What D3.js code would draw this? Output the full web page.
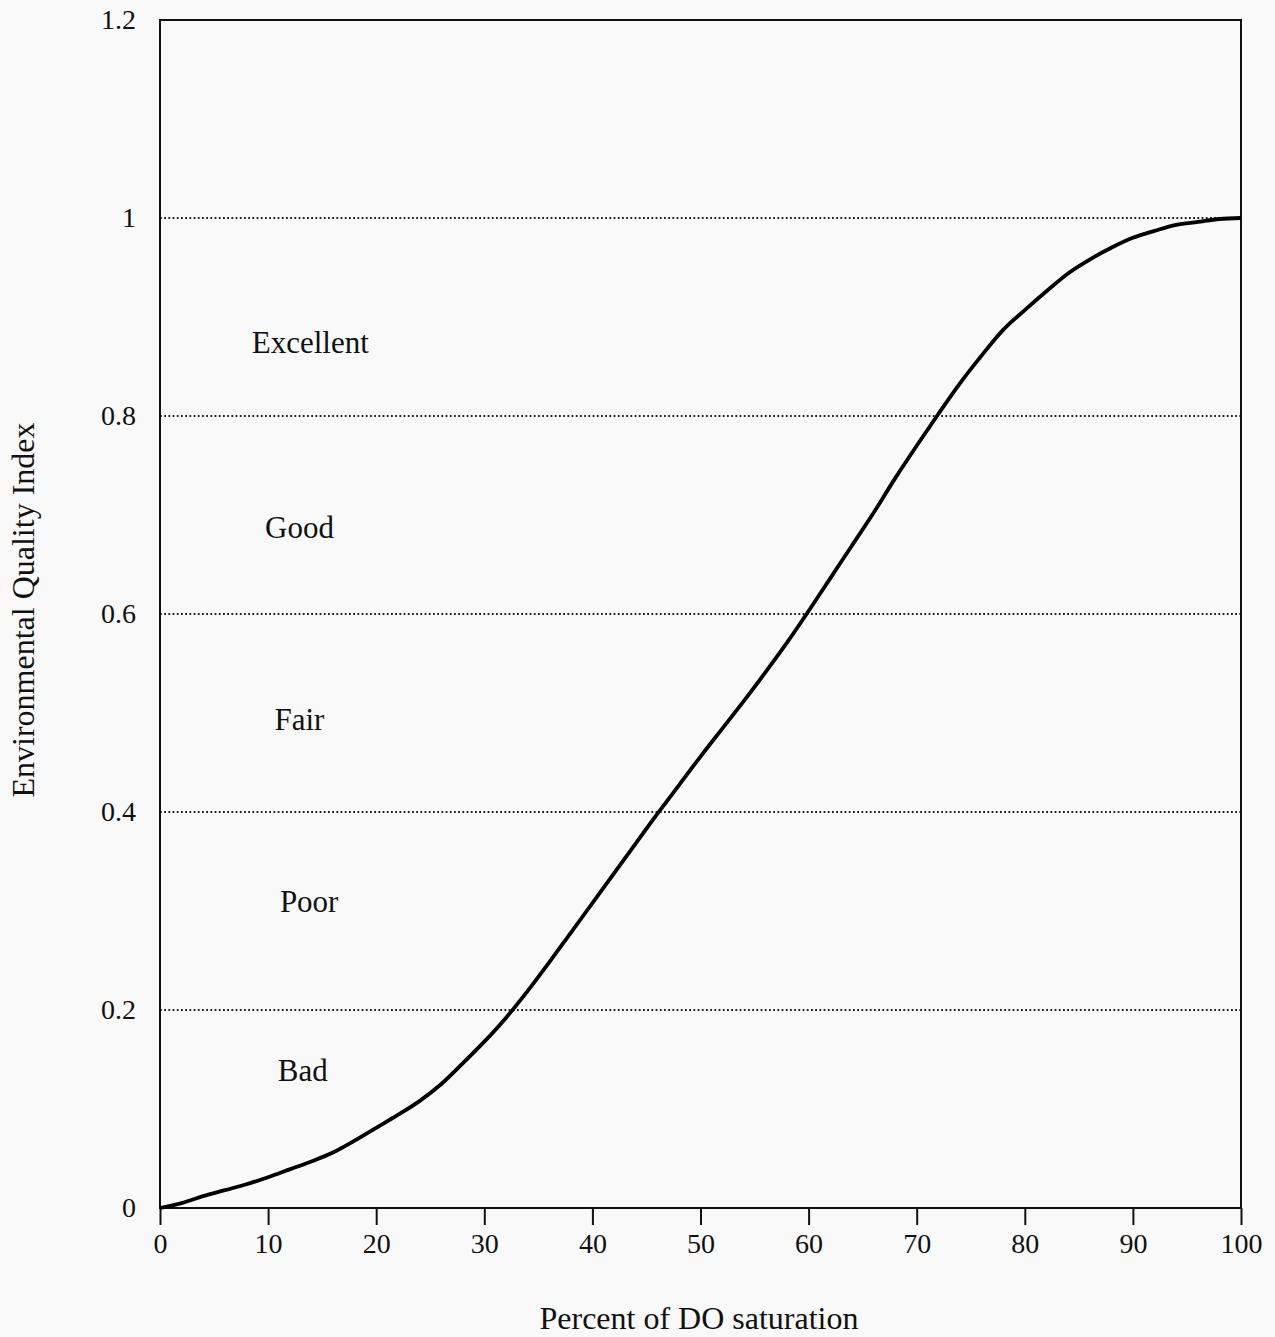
<!DOCTYPE html>
<html>
<head>
<meta charset="utf-8">
<script src="https://cdn.jsdelivr.net/npm/d3@7"></script>
<style>
  body { margin: 0; background: #f9f9f9; }
  text { font-family: "Liberation Serif", "DejaVu Serif", serif; fill: #111; }
</style>
</head>
<body>
<script>
// values
var doPct = [0, 2, 4, 6, 8, 10, 12, 14, 16, 18, 20, 22, 24, 26, 28, 30, 32, 34, 36, 38, 40, 42, 44, 46, 48, 50,
             52, 54, 56, 58, 60, 62, 64, 66, 68, 70, 72, 74, 76, 78, 80, 82, 84, 86, 88, 90, 92, 94, 96, 98, 100];
var eqi   = [0, 0.005, 0.012, 0.018, 0.024, 0.031, 0.039, 0.047, 0.056, 0.068, 0.081, 0.094, 0.108, 0.125, 0.146,
             0.168, 0.192, 0.219, 0.248, 0.278, 0.308, 0.338, 0.368, 0.398, 0.427, 0.456, 0.484, 0.512, 0.541, 0.571,
             0.603, 0.636, 0.669, 0.702, 0.737, 0.770, 0.802, 0.833, 0.861, 0.887, 0.907, 0.926, 0.944, 0.958, 0.970,
             0.980, 0.987, 0.993, 0.996, 0.999, 1.0];

var xTicks = [0, 10, 20, 30, 40, 50, 60, 70, 80, 90, 100];
var yTicks = [0, 0.2, 0.4, 0.6, 0.8, 1, 1.2];
var gridVals = [0.2, 0.4, 0.6, 0.8, 1];

var classNames = ["Excellent", "Good", "Fair", "Poor", "Bad"];
var classX = [13.9, 12.9, 12.9, 13.8, 13.2];
var classY = [0.874, 0.687, 0.493, 0.310, 0.139];

var width = 1275, height = 1337;
var padL = 160, padR = 1241, padT = 20, padB = 1208;

var x = d3.scaleLinear().domain([0, 100]).range([padL, padR]);
var y = d3.scaleLinear().domain([0, 1.2]).range([padB, padT]);

var svg = d3.select("body").append("svg")
  .attr("width", width)
  .attr("height", height);

svg.append("rect")
  .attr("width", width).attr("height", height)
  .attr("fill", "#f9f9f9");

// dotted grid lines
svg.selectAll("line.grid")
  .data(gridVals)
  .enter()
  .append("line")
  .attr("class", "grid")
  .attr("x1", padL).attr("x2", padR)
  .attr("y1", d => y(d)).attr("y2", d => y(d))
  .attr("stroke", "#222")
  .attr("stroke-width", 1.8)
  .attr("stroke-dasharray", "1.8,2.4");

// frame
svg.append("rect")
  .attr("x", padL).attr("y", padT)
  .attr("width", padR - padL).attr("height", padB - padT)
  .attr("fill", "none")
  .attr("stroke", "#111")
  .attr("stroke-width", 2);

var xAxis = d3.axisBottom(x).tickValues(xTicks).tickSize(17).tickPadding(8).tickFormat(d3.format("d"));
var gx = svg.append("g")
  .attr("transform", "translate(0," + padB + ")")
  .call(xAxis);
gx.select(".domain").remove();
gx.selectAll(".tick line").attr("stroke", "#111").attr("stroke-width", 2);
gx.selectAll(".tick text").attr("font-size", 28).attr("fill", "#111");

var yAxis = d3.axisLeft(y).tickValues(yTicks).tickSize(0).tickPadding(24)
  .tickFormat(d => d === 0 || d === 1 ? d3.format("d")(d) : d3.format(".1f")(d));
var gy = svg.append("g")
  .attr("transform", "translate(" + padL + ",0)")
  .call(yAxis);
gy.select(".domain").remove();
gy.selectAll(".tick text").attr("font-size", 28).attr("fill", "#111");

// the curve
var pts = doPct.map((d, i) => [d, eqi[i]]);
var line = d3.line()
  .x(d => x(d[0]))
  .y(d => y(d[1]))
  .curve(d3.curveCatmullRom.alpha(0.5));

svg.append("path")
  .datum(pts)
  .attr("d", line)
  .attr("fill", "none")
  .attr("stroke", "#000")
  .attr("stroke-width", 3.8)
  .attr("stroke-linejoin", "round");

// class labels
svg.selectAll("text.cls")
  .data(classNames)
  .enter()
  .append("text")
  .attr("class", "cls")
  .attr("x", (d, i) => x(classX[i]))
  .attr("y", (d, i) => y(classY[i]))
  .attr("text-anchor", "middle")
  .attr("dominant-baseline", "central")
  .attr("font-size", 31)
  .text(d => d);

// axis titles
svg.append("text")
  .attr("x", 699)
  .attr("y", 1329)
  .attr("text-anchor", "middle")
  .attr("font-size", 32)
  .text("Percent of DO saturation");

svg.append("text")
  .attr("transform", "translate(34,610) rotate(-90)")
  .attr("text-anchor", "middle")
  .attr("font-size", 32)
  .text("Environmental Quality Index");
</script>
</body>
</html>
